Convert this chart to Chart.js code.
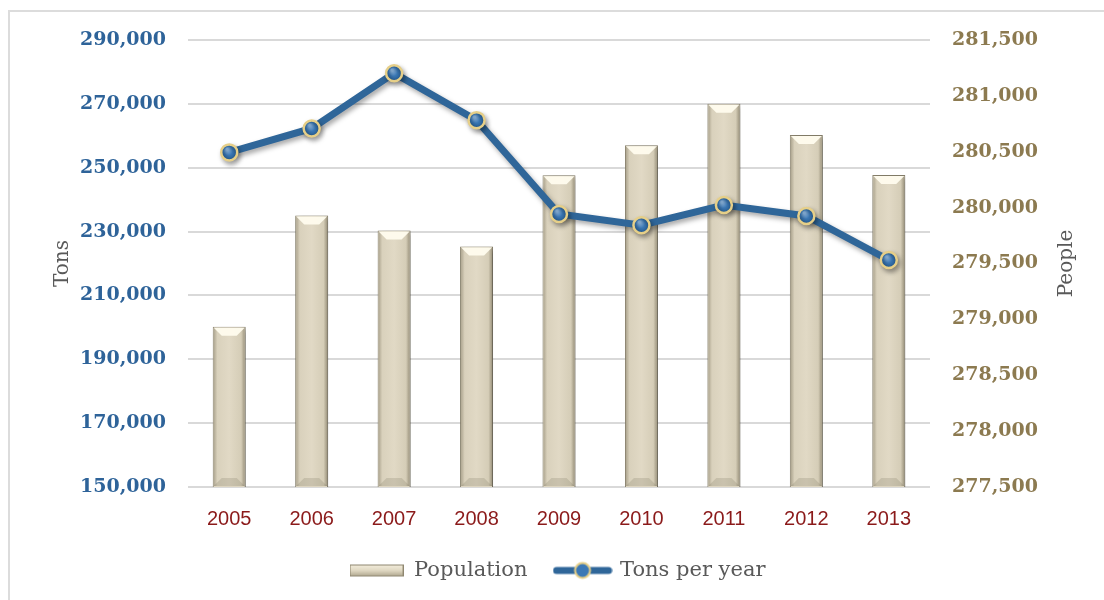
<!DOCTYPE html>
<html>
<head>
<meta charset="utf-8">
<script src="https://cdn.jsdelivr.net/npm/chart.js@4/dist/chart.umd.min.js"></script>
<style>
  html, body { margin: 0; padding: 0; background: #fff; }
  #wrap { position: relative; width: 1104px; height: 600px; overflow: hidden; }
  #frame { position: absolute; left: 8px; top: 10px; width: 1200px; height: 700px; border: 2px solid #dcdcdc; box-sizing: border-box; }
  #c { position: absolute; left: 0; top: 0; }
</style>
</head>
<body>
<div id="wrap">
  <div id="frame"></div>
  <canvas id="c" width="1104" height="600"></canvas>
</div>
<script>
// --- data ---
const years = ['2005', '2006', '2007', '2008', '2009', '2010', '2011', '2012', '2013'];
const population = [278935, 279930, 279796, 279652, 280289, 280558, 280930, 280650, 280292];
const tonsPerYear = [254800, 262300, 279600, 264900, 235500, 232000, 238300, 234900, 221100];

const serif = '"DejaVu Serif", serif';
const lineBlue = '#2f6699';

// legend swatches
function makeBarSwatch() {
  const cv = document.createElement('canvas');
  cv.width = 54; cv.height = 14;
  const g = cv.getContext('2d');
  const grad = g.createLinearGradient(0, 0, 0, 14);
  grad.addColorStop(0, '#f7f2e2');
  grad.addColorStop(0.5, '#e0d8c2');
  grad.addColorStop(1, '#a49c84');
  g.fillStyle = grad;
  g.fillRect(0, 1, 54, 12);
  g.strokeStyle = '#8f8770';
  g.lineWidth = 1;
  g.strokeRect(0.5, 1.5, 53, 11);
  return cv;
}
function makeLineSwatch() {
  const cv = document.createElement('canvas');
  cv.width = 60; cv.height = 20;
  const g = cv.getContext('2d');
  g.strokeStyle = lineBlue;
  g.lineWidth = 7;
  g.lineCap = 'round';
  g.beginPath(); g.moveTo(4, 10); g.lineTo(56, 10); g.stroke();
  g.beginPath(); g.arc(30, 10, 7.5, 0, Math.PI * 2);
  g.fillStyle = '#3b78b5'; g.fill();
  g.lineWidth = 2; g.strokeStyle = '#e6cf88'; g.stroke();
  return cv;
}
const barSwatch = makeBarSwatch();
const lineSwatch = makeLineSwatch();

function markerFill(ctx) {
  const el = ctx.element;
  if (!el || !Number.isFinite(el.x) || !Number.isFinite(el.y)) return '#3b78b5';
  const g = ctx.chart.ctx.createRadialGradient(el.x - 2, el.y - 3, 1, el.x, el.y, 8);
  g.addColorStop(0, '#8fbbe6');
  g.addColorStop(0.5, '#3b78b5');
  g.addColorStop(1, '#245a8f');
  return g;
}

// bar shading, bevels, line shadow, right-axis title
const bevelPlugin = {
  id: 'bevel',
  beforeDatasetDraw(chart, args) {
    const c = chart.ctx;
    c.save();
    if (chart.data.datasets[args.index].type === 'line') {
      c.shadowColor = 'rgba(0,0,0,0.35)';
      c.shadowBlur = 5;
      c.shadowOffsetX = 2;
      c.shadowOffsetY = 3;
    } else {
      c.shadowColor = 'rgba(0,0,0,0.35)';
      c.shadowBlur = 6;
      c.shadowOffsetX = 3;
      c.shadowOffsetY = 2;
    }
  },
  afterDatasetDraw(chart, args) {
    const c = chart.ctx;
    c.restore();
    if (chart.data.datasets[args.index].type === 'line') return;
    const area = chart.chartArea;
    args.meta.data.forEach(bar => {
      const l = bar.x - bar.width / 2, r = bar.x + bar.width / 2, t = bar.y;
      const b = Math.min(bar.base, area.bottom);
      const d = 9;
      c.save();
      const g = c.createLinearGradient(l, 0, r, 0);
      g.addColorStop(0, '#a29a84');
      g.addColorStop(0.14, '#d9d1bc');
      g.addColorStop(0.5, '#e1d9c5');
      g.addColorStop(0.86, '#d5cdb7');
      g.addColorStop(1, '#908872');
      c.fillStyle = g;
      c.fillRect(l + 1, t + 1, r - l - 2, b - t - 2);
      c.fillStyle = 'rgba(255,252,238,0.95)';
      c.beginPath();
      c.moveTo(l + 1, t + 1); c.lineTo(r - 1, t + 1); c.lineTo(r - d, t + d); c.lineTo(l + d, t + d);
      c.closePath(); c.fill();
      c.fillStyle = 'rgba(120,112,90,0.22)';
      c.beginPath();
      c.moveTo(l + 1, b - 1); c.lineTo(r - 1, b - 1); c.lineTo(r - d, b - d); c.lineTo(l + d, b - d);
      c.closePath(); c.fill();
      c.restore();
    });
  },
  afterDraw(chart) {
    const s = chart.scales.yR;
    const c = chart.ctx;
    c.save();
    c.translate(s.right - 12, (s.top + s.bottom) / 2);
    c.rotate(-Math.PI / 2);
    c.fillStyle = '#595959';
    c.font = '20px ' + serif;
    c.textAlign = 'center';
    c.textBaseline = 'middle';
    c.fillText('People', 0, 0);
    c.restore();
  }
};

new Chart(document.getElementById('c'), {
  data: {
    labels: years,
    datasets: [
      {
        type: 'bar',
        label: 'Population',
        data: population,
        yAxisID: 'yR',
        order: 1,
        backgroundColor: '#ddd5c0',
        borderColor: '#8a836e',
        borderWidth: 1,
        barPercentage: 0.8,
        categoryPercentage: 0.5
      },
      {
        type: 'line',
        label: 'Tons per year',
        data: tonsPerYear,
        yAxisID: 'yL',
        order: 0,
        borderColor: lineBlue,
        borderWidth: 7,
        tension: 0,
        pointRadius: 8,
        pointBackgroundColor: markerFill,
        pointBorderColor: '#e6cf88',
        pointBorderWidth: 2.5
      }
    ]
  },
  options: {
    responsive: false,
    animation: false,
    events: [],
    layout: { padding: { left: 36, right: 25, top: 40, bottom: 9 } },
    plugins: {
      tooltip: { enabled: false },
      legend: {
        position: 'bottom',
        labels: {
          usePointStyle: true,
          pointStyleWidth: 54,
          padding: 28,
          color: '#595959',
          font: { family: serif, size: 21 },
          generateLabels(chart) {
            return chart.data.datasets.map((ds, i) => ({
              text: ds.label,
              pointStyle: i === 0 ? barSwatch : lineSwatch,
              fontColor: '#595959',
              datasetIndex: i,
              hidden: false,
              lineWidth: 0
            }));
          }
        }
      }
    },
    scales: {
      x: {
        afterFit(scale) { scale.height = 45; },
        grid: { display: false },
        border: { display: false },
        ticks: { color: '#8b1a1a', padding: 12, font: { family: '"Liberation Sans", Arial, sans-serif', size: 20 } }
      },
      yL: {
        position: 'left',
        min: 150000,
        max: 290000,
        afterFit(scale) { scale.width = 152; },
        border: { display: false },
        grid: { color: '#d9d9d9', lineWidth: 2, drawTicks: false },
        ticks: {
          stepSize: 20000,
          padding: 22,
          color: '#2e6399',
          font: { family: serif, size: 19, weight: 'bold' },
          callback: v => v.toLocaleString('en-US')
        },
        title: { display: true, text: 'Tons', color: '#595959', font: { family: serif, size: 20 }, padding: { top: 15, bottom: 0 } }
      },
      yR: {
        position: 'right',
        min: 277500,
        max: 281500,
        afterFit(scale) { scale.width = 149; },
        border: { display: false },
        grid: { display: false, drawTicks: false },
        ticks: {
          stepSize: 500,
          padding: 22,
          color: '#8c7a50',
          font: { family: serif, size: 19, weight: 'bold' },
          callback: v => v.toLocaleString('en-US')
        }
      }
    }
  },
  plugins: [bevelPlugin]
});
</script>
</body>
</html>
